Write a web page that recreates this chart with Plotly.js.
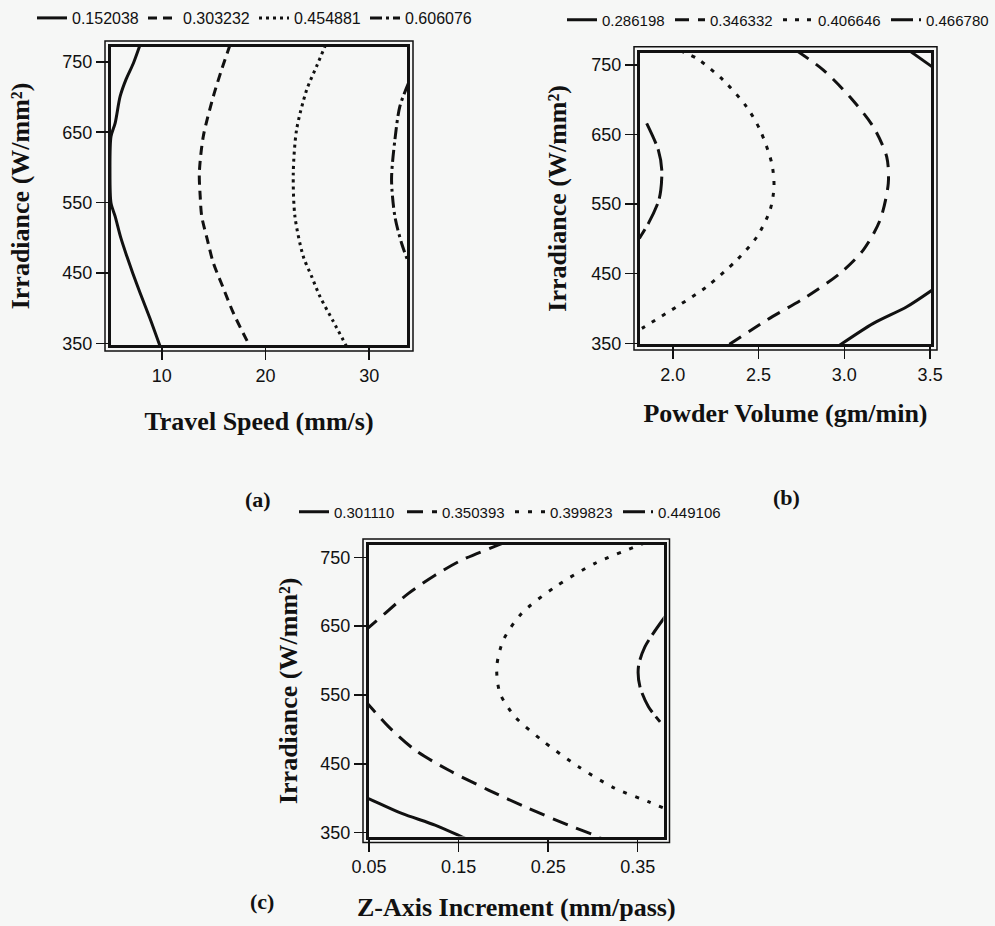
<!DOCTYPE html>
<html><head><meta charset="utf-8">
<script src="https://cdn.plot.ly/plotly-3.0.1.min.js"></script>
<style>html,body{margin:0;padding:0;background:#f6f7f6;} #chart{width:995px;height:926px;}</style>
</head><body><div id="chart"></div>
<script>
// ================= DATA =================
// Panel (a): Travel Speed (mm/s) vs Irradiance (W/mm²)
const levelsA = ['0.152038', '0.303232', '0.454881', '0.606076'];
const speedA1 = [7.9, 7.26, 6.55, 5.98, 5.5, 5.1, 5.0, 5.1, 5.5, 6.05, 6.63, 7.2, 7.91, 8.88, 9.84];
const irrA1   = [774, 748, 725, 700.8, 663, 644, 597, 549.6, 530.6, 500, 473.9, 450, 421.9, 385, 346];
const speedA2 = [16.58, 15.75, 14.97, 14.0, 13.62, 13.7, 13.85, 14.35, 14.97, 15.9, 16.9, 18.5];
const irrA2   = [774, 738, 700.8, 644, 592, 560, 530.6, 500, 464.5, 430, 393.5, 346];
const speedA3 = [25.8, 24.97, 23.97, 23.0, 22.68, 22.84, 23.64, 24.46, 25.25, 26.52, 27.82];
const irrA3   = [774, 745, 710, 653.5, 592, 530.6, 474, 445, 417, 382, 346];
const speedA4 = [33.8, 32.96, 32.48, 32.16, 32.48, 33.12, 33.8];
const irrA4   = [720, 686.6, 639, 582.6, 530.6, 492.8, 464.5];

// Panel (b): Powder Volume (gm/min) vs Irradiance
const levelsB = ['0.286198', '0.346332', '0.406646', '0.466780'];
const powderB1 = [2.965, 3.169, 3.364, 3.52, null, 3.38, 3.52];
const irrB1    = [346, 378.7, 402.6, 428, null, 770.4, 746];
const powderB2 = [2.723, 2.878, 3.033, 3.169, 3.247, 3.256, 3.208, 3.11, 2.975, 2.78, 2.548, 2.315];
const irrB2    = [770.4, 742.7, 704, 661, 618, 580, 527, 484, 450.6, 417, 383.5, 346];
const powderB3 = [2.043, 2.14, 2.295, 2.43, 2.509, 2.577, 2.59, 2.567, 2.49, 2.373, 2.198, 2.023, 1.82];
const irrB3    = [770.4, 759.5, 728, 690, 656.5, 608.6, 575, 541.5, 503, 469.7, 431.3, 402.6, 371.5];
const powderB4 = [1.848, 1.916, 1.936, 1.93, 1.916, 1.858, 1.805];
const irrB4    = [666, 627.7, 599, 570, 553.5, 522.4, 500.9];

// Panel (c): Z-Axis Increment (mm/pass) vs Irradiance
const levelsC = ['0.301110', '0.350393', '0.399823', '0.449106'];
const zincC1 = [0.045, 0.053, 0.0865, 0.1237, 0.1535, 0.157];
const irrC1  = [402, 397.5, 378, 361, 344, 342];
const zincC2 = [0.2005, 0.1945, 0.1535, 0.1237, 0.094, 0.0679, 0.0549, 0.045, null,
                0.045, 0.0549, 0.0717, 0.1014, 0.1386, 0.1833, 0.228, 0.2726, 0.306, 0.31];
const irrC2  = [771.2, 768, 746, 724, 697.7, 668.7, 654, 643, null,
                542, 528, 504, 470, 441, 412, 385.4, 361, 344, 341];
const zincC3 = [0.358, 0.347, 0.3023, 0.2577, 0.2205, 0.2, 0.1926, 0.1962, 0.213, 0.2428, 0.2838, 0.3246, 0.3619, 0.3805];
const irrC3  = [771, 765.4, 741.3, 707, 668.7, 630, 591, 552.5, 518.5, 484.6, 445.9, 414.5, 395, 385];
const zincC4 = [0.3805, 0.358, 0.3508, 0.3525, 0.362, 0.375];
const irrC4  = [663.7, 620, 591, 562, 533, 511];

// Tick labels
const ticksIrr = [350, 450, 550, 650, 750];
const ticksSpeed = [10, 20, 30];
const ticksPowder = [2.0, 2.5, 3.0, 3.5];
const ticksPowderText = ['2.0', '2.5', '3.0', '3.5'];
const ticksZ = [0.05, 0.15, 0.25, 0.35];
const ticksZText = ['0.05', '0.15', '0.25', '0.35'];

// ================= STYLE / LAYOUT =================
const W = 995, H = 926;
const BG = '#f6f7f6', INK = '#111';
const SERIF = 'Liberation Serif, Times New Roman, serif';
const SANS = 'Liberation Sans, Arial, Helvetica, sans-serif';
const fx = p => p / W, fy = p => 1 - p / H;

// plot-area boxes in pixels (interior)
const boxA = {L: 111, R: 407, T: 47, B: 345};
const boxB = {L: 640, R: 931, T: 52.7, B: 344};
const boxC = {L: 369, R: 663.5, T: 545, B: 836.5};

const dashA = ['solid', '9px,6px', '3px,4px', '12px,4px,3px,4px'];
const dashB = ['solid', '14px,9px', '4px,8px', '22px,6px'];
const dashC = ['solid', '16px,9px', '4px,9px', '22px,6px'];

function tr(x, y, name, dash, xa, ya, lg) {
  return {x: x, y: y, name: name, type: 'scatter', mode: 'lines',
          line: {color: INK, width: 3, dash: dash, shape: 'spline', smoothing: 0.8},
          connectgaps: false, xaxis: xa, yaxis: ya, legend: lg, hoverinfo: 'skip'};
}
const data = [
  tr(speedA1, irrA1, levelsA[0], dashA[0], 'x', 'y', 'legend'),
  tr(speedA2, irrA2, levelsA[1], dashA[1], 'x', 'y', 'legend'),
  tr(speedA3, irrA3, levelsA[2], dashA[2], 'x', 'y', 'legend'),
  tr(speedA4, irrA4, levelsA[3], dashA[3], 'x', 'y', 'legend'),
  tr(powderB1, irrB1, levelsB[0], dashB[0], 'x2', 'y2', 'legend2'),
  tr(powderB2, irrB2, levelsB[1], dashB[1], 'x2', 'y2', 'legend2'),
  tr(powderB3, irrB3, levelsB[2], dashB[2], 'x2', 'y2', 'legend2'),
  tr(powderB4, irrB4, levelsB[3], dashB[3], 'x2', 'y2', 'legend2'),
  tr(zincC1, irrC1, levelsC[0], dashC[0], 'x3', 'y3', 'legend3'),
  tr(zincC2, irrC2, levelsC[1], dashC[1], 'x3', 'y3', 'legend3'),
  tr(zincC3, irrC3, levelsC[2], dashC[2], 'x3', 'y3', 'legend3'),
  tr(zincC4, irrC4, levelsC[3], dashC[3], 'x3', 'y3', 'legend3')
];

function axisBase() {
  return {showline: true, mirror: true, linewidth: 3, linecolor: INK,
          ticks: 'outside', ticklen: 12, tickwidth: 1.5, tickcolor: INK,
          showgrid: false, zeroline: false, fixedrange: true,
          tickfont: {family: SANS, size: 18, color: INK}};
}
function titleObj(text, standoff) {
  return {text: text, standoff: standoff, font: {family: SERIF, size: 26, color: INK, weight: 700}};
}
function xax(box, range, tv, tt, title, anchor, so) {
  return Object.assign(axisBase(), {domain: [fx(box.L), fx(box.R)], range: range, anchor: anchor,
    tickmode: 'array', tickvals: tv, ticktext: tt, title: titleObj(title, so)});
}
function yax(box, range, title, anchor, so) {
  return Object.assign(axisBase(), {domain: [fy(box.B), fy(box.T)], range: range, anchor: anchor,
    tickmode: 'array', tickvals: ticksIrr, ticktext: ticksIrr.map(String), title: titleObj(title, so)});
}
function frame(box) {
  const o = 6;
  return {type: 'rect', xref: 'paper', yref: 'paper', layer: 'above',
          x0: fx(box.L - o), x1: fx(box.R + o), y0: fy(box.B + o), y1: fy(box.T - o),
          line: {color: INK, width: 1.5}, fillcolor: 'rgba(0,0,0,0)'};
}
function legendObj(xpx, ypx, size, ew) {
  return {orientation: 'h', x: fx(xpx), xanchor: 'left', y: fy(ypx), yanchor: 'middle',
          bgcolor: 'rgba(0,0,0,0)', borderwidth: 0, font: {family: SANS, size: size, color: INK},
          entrywidth: ew, entrywidthmode: 'pixels', itemwidth: 30, traceorder: 'normal', itemclick: false};
}
function label(text, xpx, ypx) {
  return {text: text, xref: 'paper', yref: 'paper', x: fx(xpx), y: fy(ypx), xanchor: 'center', yanchor: 'middle',
          showarrow: false, font: {family: SERIF, size: 22, color: INK, weight: 700}};
}
const IRR = 'Irradiance (W/mm²)';
const layout = {
  width: W, height: H, margin: {l: 0, r: 0, t: 0, b: 0},
  paper_bgcolor: BG, plot_bgcolor: BG, showlegend: true,
  xaxis: xax(boxA, [5.1, 33.65], ticksSpeed, ticksSpeed.map(String), 'Travel Speed (mm/s)', 'y', 28),
  yaxis: yax(boxA, [348, 771], IRR, 'x', 26),
  xaxis2: xax(boxB, [1.809, 3.505], ticksPowder, ticksPowderText, 'Powder Volume (gm/min)', 'y2', 21),
  yaxis2: yax(boxB, [349, 767.7], IRR, 'x2', 18),
  xaxis3: xax(boxC, [0.0499, 0.3788], ticksZ, ticksZText, 'Z-Axis Increment (mm/pass)', 'y3', 22),
  yaxis3: yax(boxC, [344.5, 767.9], IRR, 'x3', 16),
  legend: legendObj(32, 18, 16, 66),
  legend2: legendObj(562, 20, 15, 63),
  legend3: legendObj(294, 512, 15, 63),
  shapes: [frame(boxA), frame(boxB), frame(boxC)],
  annotations: [label('(a)', 258, 500), label('(b)', 786, 497), label('(c)', 262, 901)]
};
Plotly.newPlot('chart', data, layout, {staticPlot: true, displayModeBar: false});
</script></body></html>
